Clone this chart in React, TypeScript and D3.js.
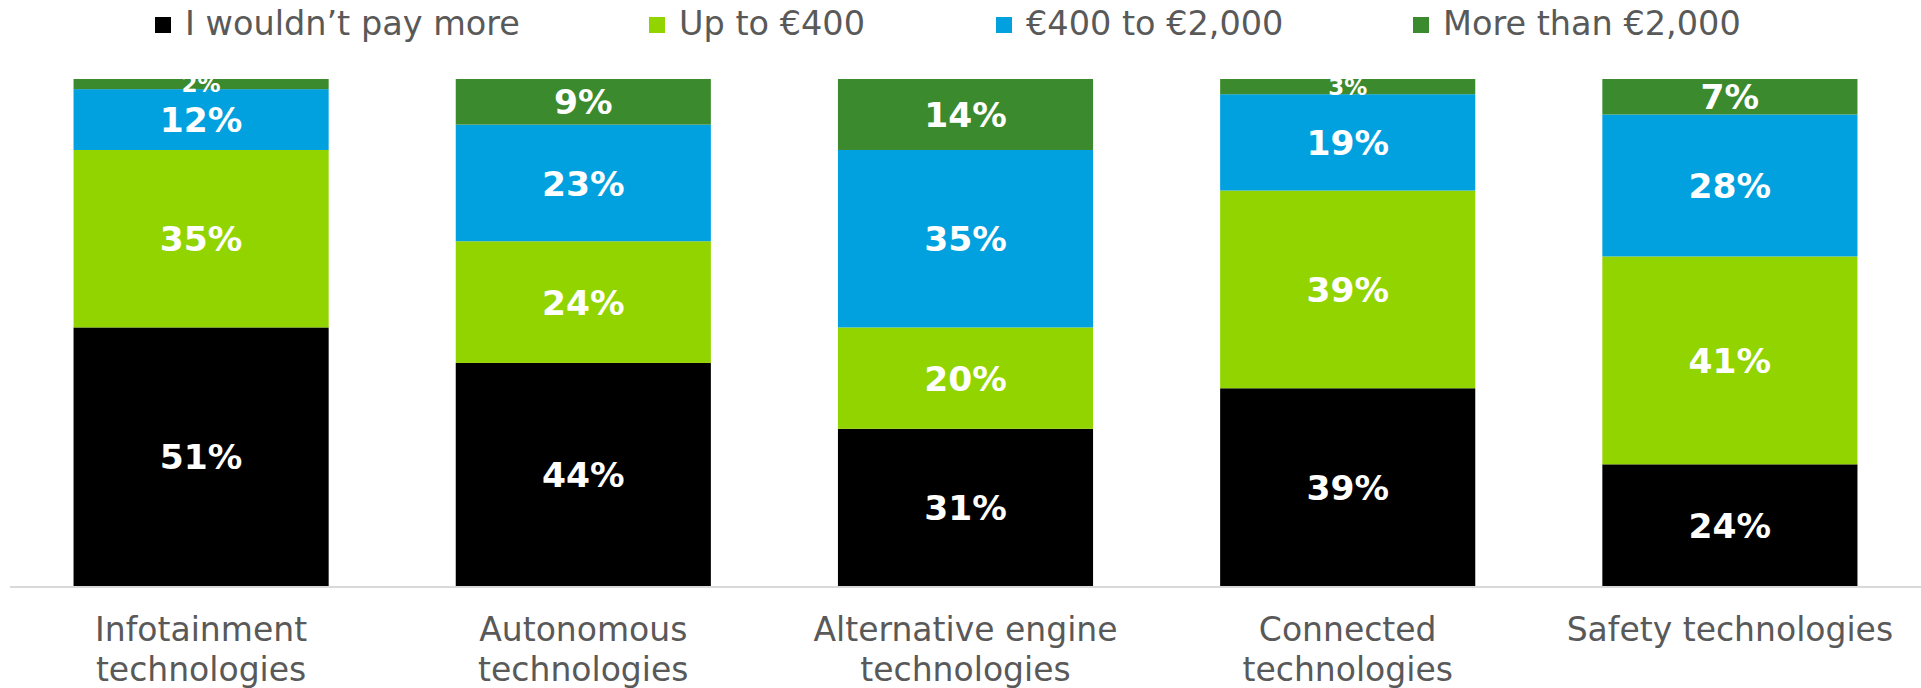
import React from "react";
import * as d3 from "d3";

const categories = [
  "Infotainment\ntechnologies",
  "Autonomous\ntechnologies",
  "Alternative engine\ntechnologies",
  "Connected\ntechnologies",
  "Safety technologies",
];
const seriesNames = ["I wouldn\u2019t pay more", "Up to \u20ac400", "\u20ac400 to \u20ac2,000", "More than \u20ac2,000"];
const wouldntPay = [51, 44, 31, 39, 24];
const upTo400 = [35, 24, 20, 39, 41];
const from400to2000 = [12, 23, 35, 19, 28];
const moreThan2000 = [2, 9, 14, 3, 7];

const seriesValues = [wouldntPay, upTo400, from400to2000, moreThan2000];
const colors = ["#000000", "#92D400", "#00A1DE", "#3C8A2E"];
const legendX = [155, 649, 996, 1413];

const W = 1921;
const H = 688;
const FONT = "Verdana, 'DejaVu Sans', sans-serif";

export default function App() {
  const x = d3
    .scaleBand<number>()
    .domain(d3.range(categories.length))
    .range([10, 1921])
    .paddingInner(0.3325)
    .paddingOuter(0.16625);
  const y = d3.scaleLinear().domain([0, 100]).range([586, 79]);

  const table = categories.map((c, i) => {
    const row: any = { i };
    seriesNames.forEach((s, k) => (row["s" + k] = seriesValues[k][i]));
    return row;
  });
  const stack = d3.stack<any>().keys(seriesNames.map((_, k) => "s" + k));
  const layers = stack(table);

  return (
    <svg
      width={W}
      height={H}
      style={{ position: "absolute", left: 0, top: 0, background: "#fff" }}
      fontFamily={FONT}
    >
      {/* legend */}
      {seriesNames.map((s, k) => (
        <g key={s} transform={`translate(${legendX[k]},0)`}>
          <rect x={0} y={17} width={16} height={16} fill={colors[k]} />
          <text x={30} y={35} fontSize={33.5} fill="#595959">
            {s}
          </text>
        </g>
      ))}
      {/* bars */}
      {layers.map((layer, k) => (
        <g key={k}>
          {layer.map((d, i) => (
            <rect
              key={i}
              x={x(i)}
              width={x.bandwidth()}
              y={y(d[1])}
              height={y(d[0]) - y(d[1])}
              fill={colors[k]}
            />
          ))}
        </g>
      ))}
      {/* data labels */}
      {layers.map((layer, k) => (
        <g key={"l" + k}>
          {layer.map((d, i) => {
            const v = d[1] - d[0];
            const small = v < 5;
            const fs = small ? 23 : 34.5;
            const cy = (y(d[0]) + y(d[1])) / 2;
            return (
              <text
                key={i}
                x={(x(i) as number) + x.bandwidth() / 2}
                y={cy + fs * 0.365}
                textAnchor="middle"
                fontSize={fs}
                fontWeight="bold"
                fill="#ffffff"
              >
                {v + "%"}
              </text>
            );
          })}
        </g>
      ))}
      {/* axis line */}
      <line x1={10} x2={1921} y1={587} y2={587} stroke="#d9d9d9" strokeWidth={2} />
      {/* category labels */}
      {categories.map((c, i) => (
        <text
          key={c}
          textAnchor="middle"
          fontSize={33}
          fill="#595959"
        >
          {c.split("\n").map((line, j) => (
            <tspan key={j} x={(x(i) as number) + x.bandwidth() / 2} y={641 + j * 40}>
              {line}
            </tspan>
          ))}
        </text>
      ))}
    </svg>
  );
}
